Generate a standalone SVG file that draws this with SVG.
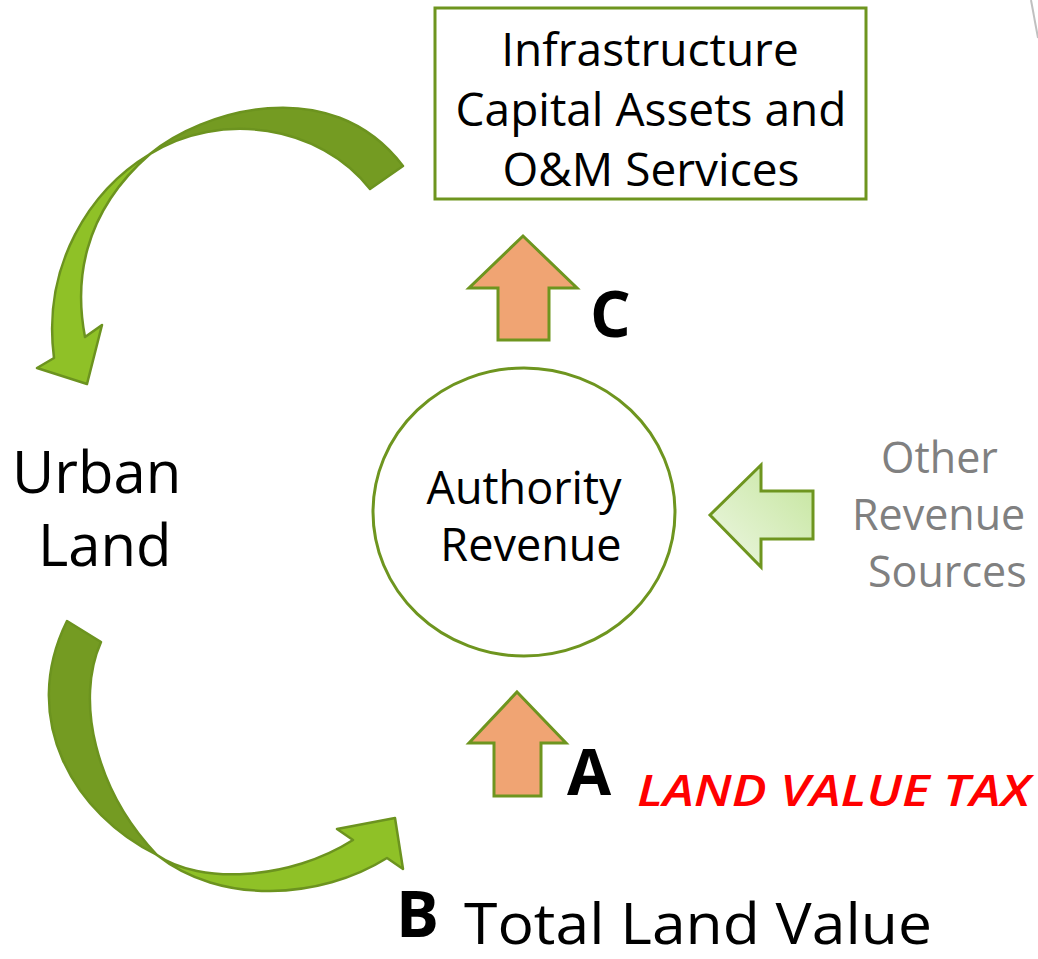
<svg xmlns="http://www.w3.org/2000/svg" width="1038" height="959" viewBox="0 0 1038 959">
<defs>
<linearGradient id="gOther" x1="0" y1="1" x2="1" y2="0">
<stop offset="0" stop-color="#eef7e4"/>
<stop offset="1" stop-color="#c4e59c"/>
</linearGradient>
<style>
.t{font-family:"Open Sans","Liberation Sans",sans-serif;fill:#000}
.g{stroke:#6e951f;stroke-width:3;stroke-linejoin:miter}
.up{fill:#f0a473}
.dk{fill:#749b22;stroke:#6c931f;stroke-width:2.5;stroke-linejoin:round}
.lt{fill:#8fc127;stroke:#6c931f;stroke-width:2.5;stroke-linejoin:round}
.big{font-weight:bold;font-size:64px}
.gray{fill:#808080}
</style>
</defs>
<rect width="1038" height="959" fill="#fff"/>
<line x1="1031" y1="0" x2="1038" y2="38" stroke="#c0c0c0" stroke-width="2"/>

<g id="connectors">
<g id="arrow-top">
<path class="dk" d="M150 154 C200 112 330 70 403 166 L370 189 C320 125 220 110 150 154 Z"/>
<path class="lt" d="M150 154 C90 190 42 265 54 358 L37 368 L87 384 L102 325 L85 337 C75 285 80 215 150 154 Z"/>
</g>
<g id="arrow-bottom">
<path class="dk" d="M67 621 L101 642 C75 700 95 790 157 855 C75 815 18 720 67 621 Z"/>
<path class="lt" d="M157 855 C200 885 290 880 353 840 L337 829 L395 818 L403 869 L387 858 C320 900 220 905 157 855 Z"/>
</g>
<polygon id="arrow-c" class="up g" points="523,236 577,288 549,288 549,340 498,340 498,288 469,288"/>
<polygon id="arrow-a" class="up g" points="517,692 566,743 541,743 541,796 494,796 494,743 469,743"/>
<polygon id="arrow-other" class="g" fill="url(#gOther)" points="710,515 761,465 761,491 813,491 813,539 761,539 761,567"/>
</g>

<g id="node-infrastructure">
<rect x="435" y="8" width="431" height="191" fill="#fff" class="g"/>
<text class="t" font-size="46" text-anchor="middle" x="650" y="66">Infrastructure</text>
<text class="t" font-size="46" text-anchor="middle" x="651" y="126">Capital Assets and</text>
<text class="t" font-size="46" text-anchor="middle" x="651" y="186">O&amp;M Services</text>
</g>

<g id="node-authority">
<ellipse cx="524" cy="512" rx="151" ry="144" fill="#fff" class="g"/>
<text class="t" font-size="45" text-anchor="middle" x="524" y="504">Authority</text>
<text class="t" font-size="45" text-anchor="middle" x="531" y="561">Revenue</text>
</g>

<g id="node-urban">
<text class="t" font-size="58" x="12" y="493">Urban</text>
<text class="t" font-size="58" x="38" y="566">Land</text>
</g>

<g id="node-other">
<text class="t gray" font-size="43" x="881" y="473">Other</text>
<text class="t gray" font-size="43" x="852" y="530">Revenue</text>
<text class="t gray" font-size="43" x="868" y="587">Sources</text>
</g>

<g id="label-c"><text class="t big" x="590" y="337">C</text></g>
<g id="label-a">
<text class="t big" x="567" y="795">A</text>
<text class="t" font-size="44" font-weight="600" font-style="italic" style="fill:#ff0000" x="637" y="806" textLength="393" lengthAdjust="spacingAndGlyphs">LAND VALUE TAX</text>
</g>
<g id="node-total">
<text class="t big" x="396" y="937">B</text>
<text class="t" font-size="57" x="464" y="944" textLength="468" lengthAdjust="spacingAndGlyphs">Total Land Value</text>
</g>
</svg>
